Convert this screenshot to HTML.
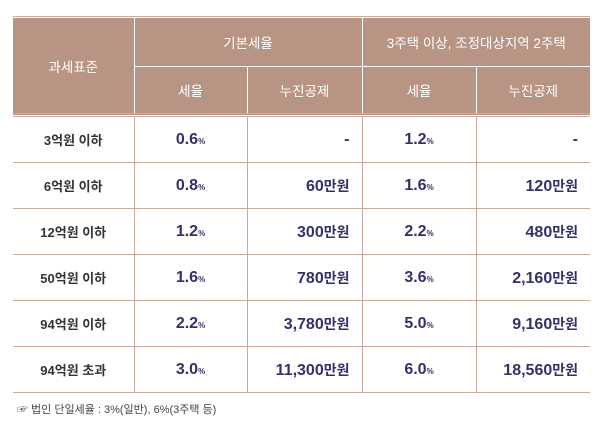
<!DOCTYPE html>
<html><head><meta charset="utf-8"><style>
body{margin:0;width:600px;height:427px;background:#fff;font-family:"Liberation Sans","Noto Sans CJK KR",sans-serif;overflow:hidden}
table{position:absolute;left:13px;top:17px;width:577px;border-collapse:collapse;table-layout:fixed}
.topline{position:absolute;left:13px;top:16px;width:577px;height:1px;background:#c9aa9c}
th{background:#b89484;color:#fff;font-weight:normal;font-size:13.5px;height:46px;border:1px solid #fff;padding:0}
th.first{border-left:none}
th.last{border-right:none}
tr.h1 th{height:48px}
tbody td{height:45px;border-bottom:1.5px solid #c9aa9c;border-left:1.5px solid #c9aa9c;font-size:14px;padding:0}
tbody tr:first-child td{border-top:4px double #c9aa9c}
td.lab{border-left:none;text-align:center;color:#333;font-weight:bold;font-size:13px}
td.rate{text-align:center;color:#33316a;font-size:16px;font-weight:bold}
td.rate small{font-size:8px}
td.ded{text-align:right;padding-right:12px;color:#33316a;font-size:16px;font-weight:bold}
td.ded span{font-size:14px}
.note{position:absolute;left:17px;top:401px;font-size:11px;color:#444}
</style></head><body>
<div class="topline"></div>
<table>
<colgroup><col style="width:121px"><col style="width:113px"><col style="width:115px"><col style="width:114px"><col style="width:114px"></colgroup>
<thead>
<tr class="h1"><th class="first" rowspan="2">과세표준</th><th colspan="2">기본세율</th><th class="last" colspan="2">3주택 이상, 조정대상지역 2주택</th></tr>
<tr><th>세율</th><th>누진공제</th><th>세율</th><th class="last">누진공제</th></tr>
</thead>
<tbody>
<tr><td class="lab">3억원 이하</td><td class="rate">0.6<small>%</small></td><td class="ded">-</td><td class="rate">1.2<small>%</small></td><td class="ded">-</td></tr>
<tr><td class="lab">6억원 이하</td><td class="rate">0.8<small>%</small></td><td class="ded">60<span>만원</span></td><td class="rate">1.6<small>%</small></td><td class="ded">120<span>만원</span></td></tr>
<tr><td class="lab">12억원 이하</td><td class="rate">1.2<small>%</small></td><td class="ded">300<span>만원</span></td><td class="rate">2.2<small>%</small></td><td class="ded">480<span>만원</span></td></tr>
<tr><td class="lab">50억원 이하</td><td class="rate">1.6<small>%</small></td><td class="ded">780<span>만원</span></td><td class="rate">3.6<small>%</small></td><td class="ded">2,160<span>만원</span></td></tr>
<tr><td class="lab">94억원 이하</td><td class="rate">2.2<small>%</small></td><td class="ded">3,780<span>만원</span></td><td class="rate">5.0<small>%</small></td><td class="ded">9,160<span>만원</span></td></tr>
<tr><td class="lab">94억원 초과</td><td class="rate">3.0<small>%</small></td><td class="ded">11,300<span>만원</span></td><td class="rate">6.0<small>%</small></td><td class="ded">18,560<span>만원</span></td></tr>
</tbody></table>
<div class="note">☞ 법인 단일세율 : 3%(일반), 6%(3주택 등)</div>
</body></html>
